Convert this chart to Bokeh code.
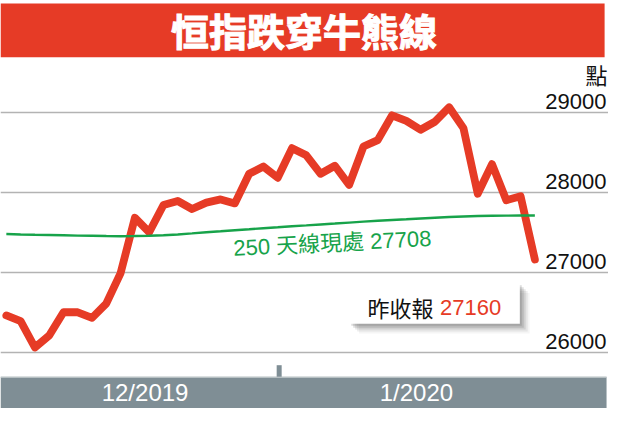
from bokeh.plotting import figure
from bokeh.models import Range1d, FixedTicker, Grid
from bokeh.core.properties import value
from bokeh.embed import file_html
from bokeh.resources import INLINE

# ---------------- data ----------------
dates = [
    "2019-12-02", "2019-12-03", "2019-12-04", "2019-12-05", "2019-12-06",
    "2019-12-09", "2019-12-10", "2019-12-11", "2019-12-12", "2019-12-13",
    "2019-12-16", "2019-12-17", "2019-12-18", "2019-12-19", "2019-12-20",
    "2019-12-23", "2019-12-24", "2019-12-27", "2019-12-30", "2019-12-31",
    "2020-01-02", "2020-01-03", "2020-01-06", "2020-01-07", "2020-01-08",
    "2020-01-09", "2020-01-10", "2020-01-13", "2020-01-14", "2020-01-15",
    "2020-01-16", "2020-01-17", "2020-01-20", "2020-01-21", "2020-01-22",
    "2020-01-23", "2020-01-24", "2020-01-29",
]
hsi_close = [
    26460, 26390, 26060, 26210, 26500, 26500, 26430, 26610, 26990, 27680,
    27500, 27840, 27890, 27790, 27870, 27910, 27860, 28230, 28320, 28180,
    28550, 28460, 28230, 28330, 28090, 28570, 28650, 28960, 28890, 28780,
    28880, 29060, 28800, 27980, 28350, 27900, 27950, 27160,
]
ma250 = [
    27477, 27472, 27468, 27465, 27462, 27458, 27455, 27452, 27450, 27452,
    27455, 27462, 27472, 27485, 27500, 27512, 27525, 27537, 27550, 27562,
    27575, 27585, 27597, 27608, 27620, 27632, 27643, 27653, 27662, 27672,
    27681, 27690, 27697, 27702, 27705, 27707, 27708, 27708,
]
y_ticks = [26000, 27000, 28000, 29000]
y_tick_labels = ["26000", "27000", "28000", "29000"]
month_keys = ["2019-12", "2020-01"]
month_labels = ["12/2019", "1/2020"]

title = "恒指跌穿牛熊線"
unit = "點"
ma_label = "250 天線現處"
close_label = "昨收報"

# ---------------- layout helpers ----------------
REF_W, REF_H = 624, 424
W, H = 608, 408
X0, DX = 6.0, 14.66      # reference px of first point, px per trading day
Y0, KY = 116.0, 0.0832   # reference px of 29000, px per index point


def rx(px):
    return (px - X0) / DX


def ry(py):
    return 29000 - (py - Y0) / KY


idx = list(range(len(dates)))
RED = "#e63b26"
GREEN = "#17a34a"
BAND = "#7f8e95"
LATIN_CJK = value("Liberation Sans, Noto Sans CJK TC")

p = figure(width=W, height=H,
           x_range=Range1d(rx(0), rx(REF_W)),
           y_range=Range1d(ry(REF_H), ry(0)),
           output_backend="svg", toolbar_location=None,
           x_axis_location=None, y_axis_location=None,
           min_border=0, outline_line_color=None,
           background_fill_color="white", border_fill_color="white")
p.grid.visible = False

grid = Grid(dimension=1, ticker=FixedTicker(ticks=y_ticks),
            grid_line_color="#b3b3b3", grid_line_width=1.6)
p.add_layout(grid)

# title band
p.quad(left=rx(0), right=rx(620), bottom=ry(59), top=ry(3),
       fill_color=RED, line_color=None)
p.text(x=[rx(311.5)], y=[ry(30)], text=[title], text_align="center",
       text_baseline="middle", text_color="white",
       text_outline_color="white",
       text_font=value("Noto Sans CJK TC"), text_font_style="bold",
       text_font_size="38px")

# unit + y tick labels
p.text(x=[rx(623)], y=[ry(76.5)], text=[unit], text_align="right",
       text_baseline="middle", text_color="#111111",
       text_font=value("Noto Sans CJK TC"), text_font_size="22px")
p.text(x=[rx(622)] * len(y_ticks), y=y_ticks, text=y_tick_labels,
       text_align="right", text_baseline="middle", y_offset=-11,
       text_color="#111111", text_font=value("Liberation Sans"),
       text_font_size="22px")

# bottom axis band
p.quad(left=rx(0), right=rx(622), bottom=ry(REF_H), top=ry(391),
       fill_color=BAND, line_color=None)
p.segment(x0=rx(0), y0=ry(391.5), x1=rx(622), y1=ry(391.5),
          line_color="#cdd4d6", line_width=1)
month_idx = [[i for i, d in enumerate(dates) if d.startswith(m)] for m in month_keys]
month_centers = [sum(m) / len(m) for m in month_idx]
boundary = month_idx[0][-1] + 0.1
p.segment(x0=boundary, y0=ry(379), x1=boundary, y1=ry(391),
          line_color=BAND, line_width=5)
p.text(x=month_centers, y=[ry(407.3)] * 2, text=month_labels,
       text_align="center", text_baseline="middle", x_offset=3,
       text_color="white", text_font=value("Liberation Sans"),
       text_font_size="24px")

# index line
p.line(idx, hsi_close, line_color=RED, line_width=7.8,
       line_join="round", line_cap="round")

# 250-day MA
p.line(idx, ma250, line_color=GREEN, line_width=2.4)
p.text(x=[rx(239)], y=[ry(257.5)], text=[f"{ma_label} {ma250[-1]}"],
       angle=0.05, text_align="left", text_baseline="middle",
       text_color=GREEN, text_font=LATIN_CJK, text_font_size="22px")

# last close box with shadow
bx0, bx1, by0, by1 = 358, 533, 294, 336
for off, a in [(10, 0.06), (8, 0.10), (6, 0.14), (4, 0.18), (2, 0.2)]:
    p.quad(left=rx(bx0 + off), right=rx(bx1 + off), top=ry(by0 + off),
           bottom=ry(by1 + off), fill_color="#555555", fill_alpha=a,
           line_color=None)
p.quad(left=rx(bx0), right=rx(bx1), top=ry(by0), bottom=ry(by1),
       fill_color="white", line_color=None)
p.text(x=[rx(376.7)], y=[ry(318.5)], text=[close_label], text_align="left",
       text_baseline="middle", text_color="#111111",
       text_font=value("Noto Sans CJK TC"), text_font_size="22px")
p.text(x=[rx(451)], y=[ry(319)], text=[str(hsi_close[-1])], text_align="left",
       text_baseline="middle", text_color=RED,
       text_font=value("Liberation Sans"), text_font_size="22px")

open("out.html", "w").write(file_html(p, INLINE))
